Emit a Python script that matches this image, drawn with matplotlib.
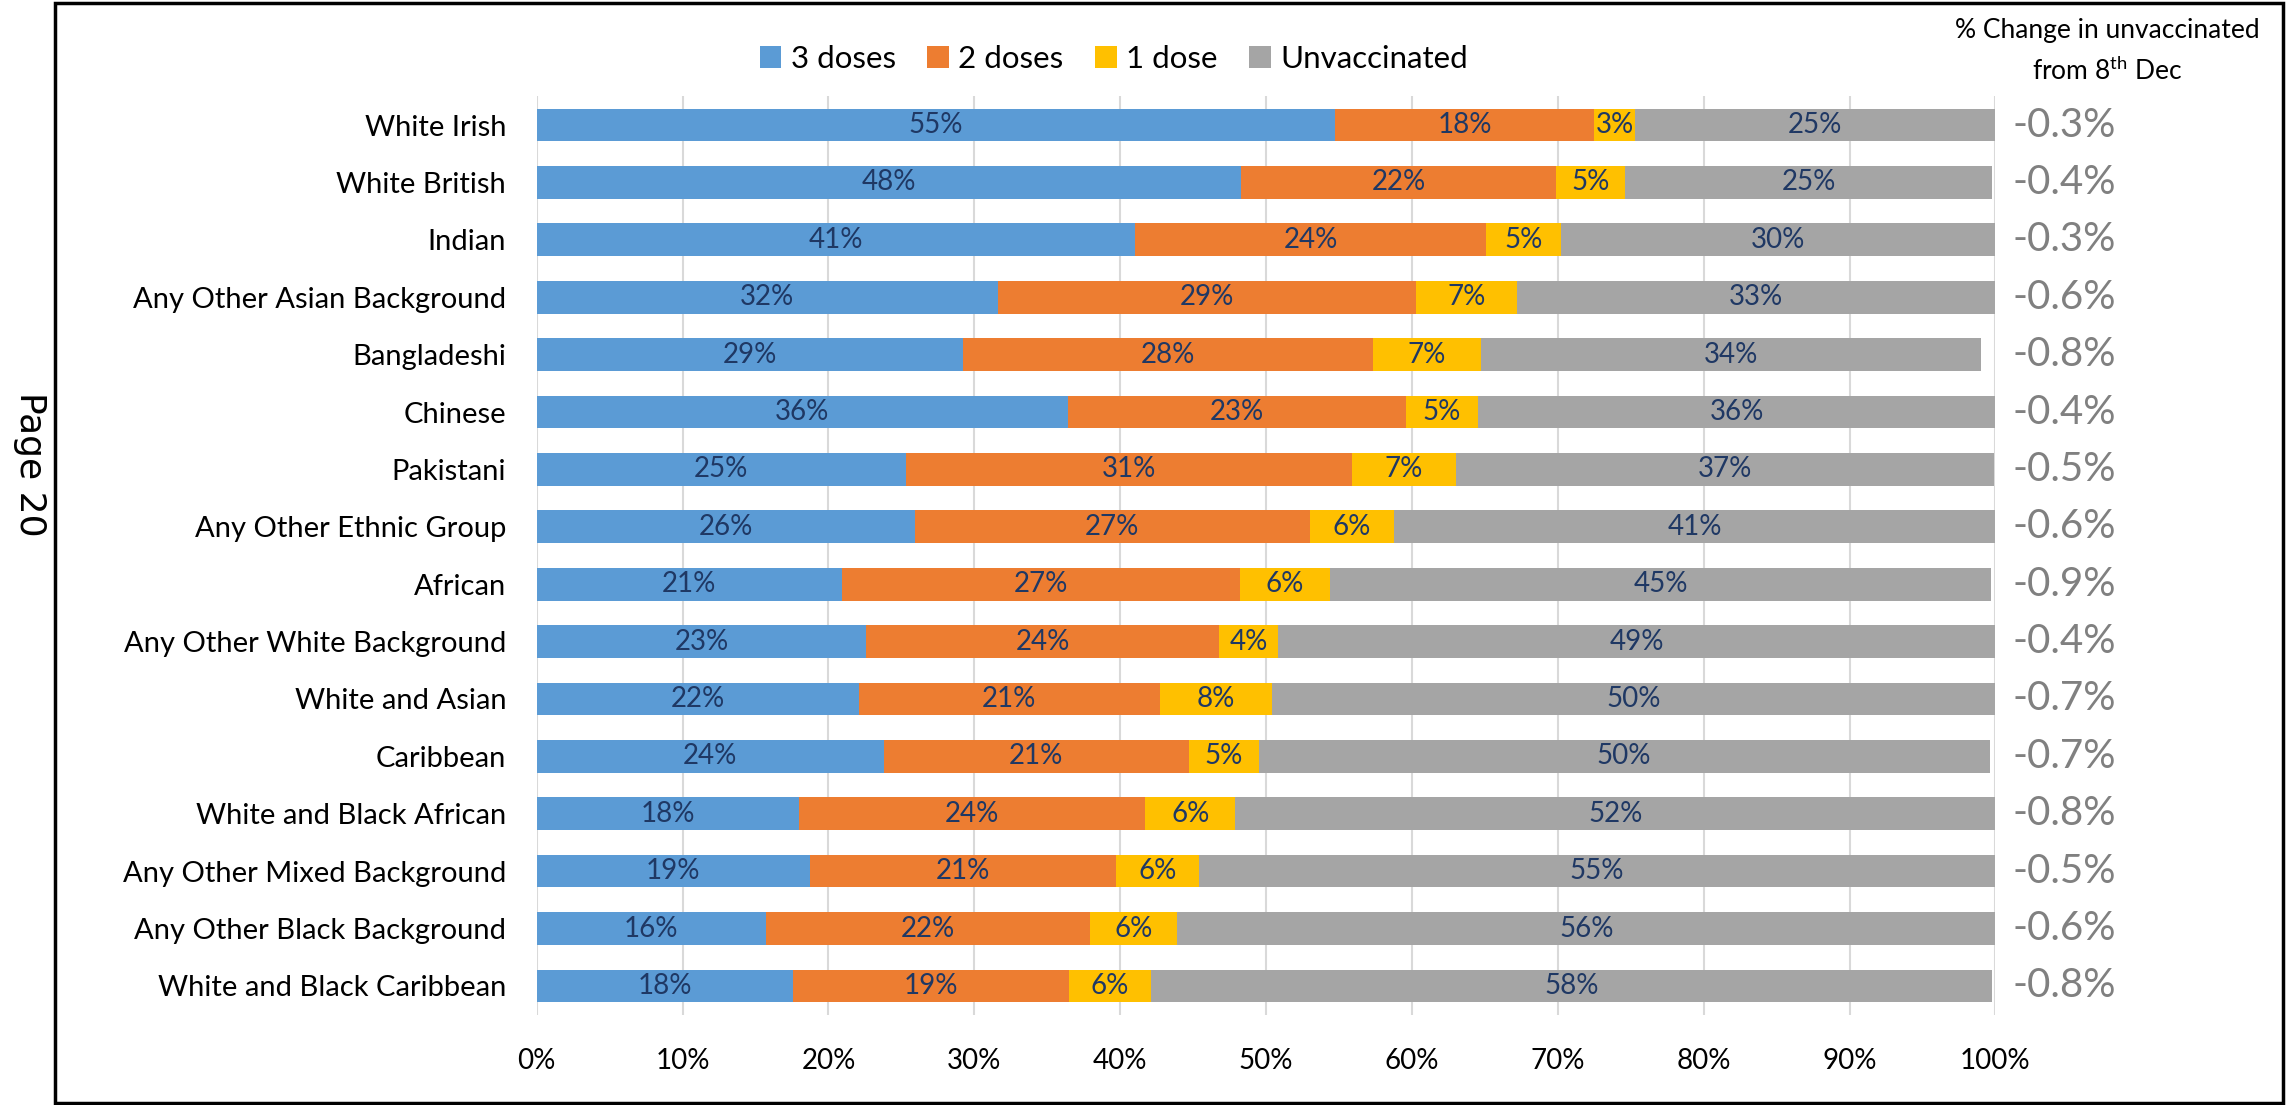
import numpy as np
import matplotlib
matplotlib.use("Agg")
import matplotlib.pyplot as plt
from matplotlib.patches import Rectangle

plt.rcParams['font.family'] = ['Lato', 'DejaVu Sans']
plt.rcParams['mathtext.fontset'] = 'custom'
plt.rcParams['mathtext.rm'] = 'Lato'

# 数据
groups = ["White Irish", "White British", "Indian", "Any Other Asian Background",
          "Bangladeshi", "Chinese", "Pakistani", "Any Other Ethnic Group",
          "African", "Any Other White Background", "White and Asian", "Caribbean",
          "White and Black African", "Any Other Mixed Background",
          "Any Other Black Background", "White and Black Caribbean"]
dose3 = [54.7, 48.3, 41.0, 31.6, 29.2, 36.4, 25.3, 25.9, 20.9, 22.6, 22.1, 23.8, 18.0, 18.7, 15.7, 17.6]
dose2 = [17.8, 21.6, 24.1, 28.7, 28.1, 23.2, 30.6, 27.1, 27.3, 24.2, 20.6, 20.9, 23.7, 21.0, 22.2, 18.9]
dose1 = [2.8, 4.7, 5.1, 6.9, 7.4, 4.9, 7.1, 5.8, 6.2, 4.0, 7.7, 4.8, 6.2, 5.7, 6.0, 5.6]
unvacc = [24.7, 25.2, 29.8, 32.8, 34.3, 35.6, 36.9, 41.2, 45.3, 49.2, 49.6, 50.1, 52.1, 54.6, 56.1, 57.7]
change = ["-0.3%", "-0.4%", "-0.3%", "-0.6%", "-0.8%", "-0.4%", "-0.5%", "-0.6%",
          "-0.9%", "-0.4%", "-0.7%", "-0.7%", "-0.8%", "-0.5%", "-0.6%", "-0.8%"]
series_names = ["3 doses", "2 doses", "1 dose", "Unvaccinated"]
colors = ["#5b9bd5", "#ed7d31", "#ffc000", "#a5a5a5"]

fig = plt.figure(figsize=(22.87, 11.05), dpi=100)
ax = fig.add_axes([0.2347, 0.0818, 0.6378, 0.831])

y = np.arange(len(groups))
left = np.zeros(len(groups))
for name, vals, c in zip(series_names, [dose3, dose2, dose1, unvacc], colors):
    vals = np.array(vals)
    ax.barh(y, vals, left=left, height=0.57, color=c, label=name, zorder=2)
    for yi, l, v in zip(y, left, vals):
        ax.text(l + v / 2, yi, "{:.0f}%".format(v), ha="center", va="center",
                fontsize=20, color="#1f3864", zorder=3)
    left = left + vals

ax.set_xlim(0, 100)
ax.set_ylim(len(groups) - 0.5, -0.5)
ax.set_xticks(np.arange(0, 101, 10))
ax.set_xticklabels(["{}%".format(t) for t in range(0, 101, 10)], fontsize=20)
ax.set_yticks(y)
ax.set_yticklabels(groups, fontsize=21)
ax.tick_params(length=0)
ax.tick_params(axis="y", pad=22)
ax.tick_params(axis="x", pad=24)
ax.grid(axis="x", color="#d9d9d9", linewidth=1.5, zorder=0)
for s in ax.spines.values():
    s.set_visible(False)

# 右侧变化列
for yi, t in zip(y, change):
    ax.text(1.012, yi, t, transform=ax.get_yaxis_transform(), ha="left", va="center",
            fontsize=29, color="#808080")

fig.text(0.9215, 0.972, "% Change in unvaccinated", ha="center", va="center", fontsize=19)
fig.text(0.9215, 0.936, r"from 8$^{\mathrm{th}}$ Dec", ha="center", va="center", fontsize=19)

fig.legend(loc="center", bbox_to_anchor=(0.487, 0.947), ncol=4, frameon=False,
           fontsize=22.5, handlelength=0.7, handleheight=0.7, handletextpad=0.3,
           columnspacing=1.0)

fig.text(0.013, 0.58, "Page 20", rotation=-90, ha="center", va="center",
         fontsize=26, family="DejaVu Sans")

fig.patches.append(Rectangle((0.0242, 0.002), 0.974, 0.995, transform=fig.transFigure,
                             fill=False, edgecolor="black", linewidth=2.5))

fig.savefig("out.png", dpi=100)
